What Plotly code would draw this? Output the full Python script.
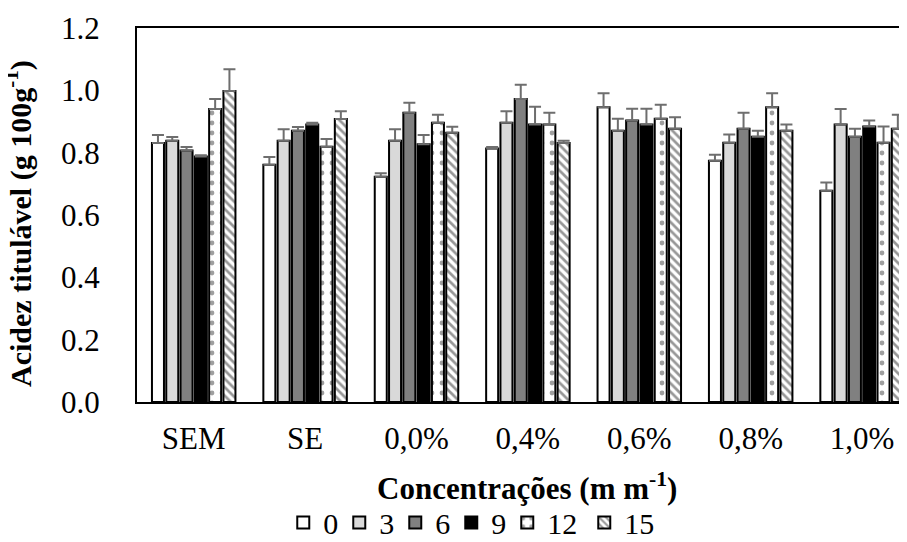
import plotly.graph_objects as go

categories = ["SEM", "SE", "0,0%", "0,4%", "0,6%", "0,8%", "1,0%"]
series_names = ["0", "3", "6", "9", "12", "15"]

v0 = [0.831, 0.761, 0.723, 0.813, 0.946, 0.774, 0.678]
v3 = [0.838, 0.838, 0.838, 0.896, 0.870, 0.832, 0.890]
v6 = [0.807, 0.870, 0.928, 0.972, 0.903, 0.877, 0.851]
v9 = [0.788, 0.890, 0.827, 0.890, 0.890, 0.851, 0.884]
v12 = [0.940, 0.819, 0.896, 0.890, 0.909, 0.946, 0.832]
v15 = [0.998, 0.908, 0.864, 0.831, 0.877, 0.870, 0.877]

e0 = [0.026, 0.025, 0.011, 0.005, 0.045, 0.019, 0.026]
e3 = [0.012, 0.037, 0.037, 0.037, 0.039, 0.026, 0.050]
e6 = [0.011, 0.012, 0.032, 0.046, 0.038, 0.051, 0.026]
e9 = [0.004, 0.006, 0.030, 0.057, 0.051, 0.019, 0.019]
e12 = [0.032, 0.025, 0.026, 0.038, 0.045, 0.045, 0.052]
e15 = [0.070, 0.025, 0.019, 0.007, 0.037, 0.020, 0.045]

values = [v0, v3, v6, v9, v12, v15]
errors = [e0, e3, e6, e9, e12, e15]

fill_colors = ["#ffffff", "#d9d9d9", "#808080", "#000000", "#ffffff", "#ffffff"]
patterns = [None, None, None, None,
            dict(shape=".", fgcolor="#404040", bgcolor="#ffffff", size=10, solidity=0.18),
            dict(shape="\\", fgcolor="#303030", bgcolor="#ffffff", size=6, solidity=0.45)]
legend_widths = [11, 11, 11, 11, 32, 32]

FONT = "Liberation Serif"

fig = go.Figure()
for name, vals, errs, col, pat, lw in zip(series_names, values, errors, fill_colors, patterns, legend_widths):
    marker = dict(color=col, line=dict(color="#000000", width=2))
    if pat is not None:
        marker["pattern"] = pat
    fig.add_trace(go.Bar(
        x=categories, y=vals, name=name, marker=marker, legendwidth=lw,
        error_y=dict(type="data", array=errs, symmetric=False, arrayminus=[0] * len(errs),
                     color="#6e6e6e", thickness=2, width=6),
    ))

fig.update_layout(
    width=907, height=542,
    margin=dict(l=129, r=0, t=20, b=148, autoexpand=False),
    paper_bgcolor="white", plot_bgcolor="white",
    barmode="group", bargap=0.23, bargroupgap=0.16,
    font=dict(family=FONT, size=31, color="#000000"),
    showlegend=True,
    legend=dict(orientation="h", x=0.188, xanchor="left", y=-0.322, yanchor="middle",
                font=dict(family=FONT, size=30), itemwidth=30, tracegroupgap=0,
                bgcolor="rgba(0,0,0,0)"),
    xaxis=dict(range=[-0.509, 6.475], showline=True, linecolor="#000000", linewidth=2,
               mirror=True, ticks="", showgrid=False, zeroline=False, automargin=False,
               tickfont=dict(family=FONT, size=31), ticklabelstandoff=8),
    yaxis=dict(range=[0, 1.2], tickvals=[0, 0.2, 0.4, 0.6, 0.8, 1.0, 1.2],
               tickformat=".1f", showline=True, linecolor="#000000", linewidth=2,
               mirror=False, ticks="", showgrid=False, zeroline=False, automargin=False,
               tickfont=dict(family=FONT, size=31), ticklabelstandoff=29),
    annotations=[
        dict(text="<b>Concentrações (m m<sup>-1</sup>)</b>", xref="paper", yref="paper",
             x=0.501, y=-0.226, xanchor="center", yanchor="middle", showarrow=False,
             font=dict(family=FONT, size=31)),
        dict(text="<b>Acidez titulável (g 100g<sup>-1</sup>)</b>", xref="paper", yref="paper",
             x=-0.153, y=0.4786, xanchor="center", yanchor="middle", showarrow=False,
             textangle=-90, font=dict(family=FONT, size=30)),
    ],
)

fig.write_html("out.html")
